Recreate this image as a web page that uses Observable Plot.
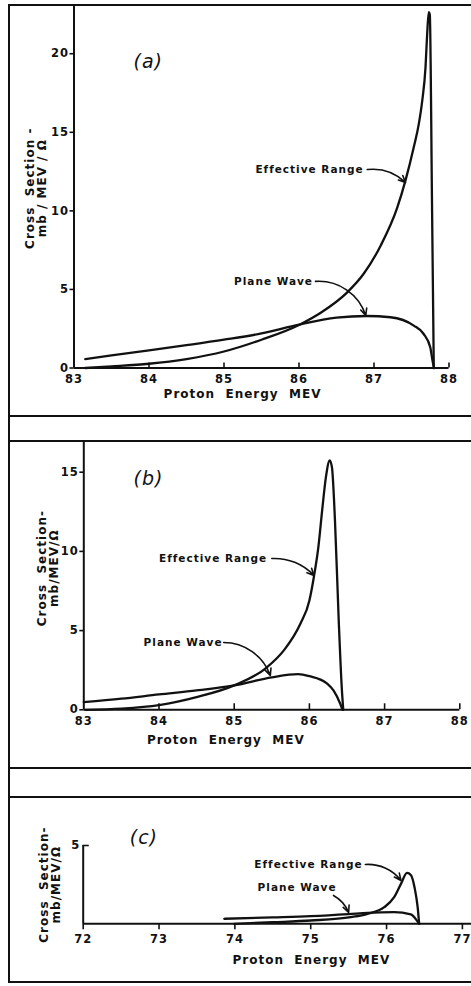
<!DOCTYPE html>
<html>
<head>
<meta charset="utf-8">
<script src="https://cdn.jsdelivr.net/npm/d3@7"></script>
<script src="https://cdn.jsdelivr.net/npm/@observablehq/plot@0.6"></script>
<style>
  html, body { margin: 0; padding: 0; background: #fff; }
  #page { position: relative; width: 471px; height: 986px; overflow: hidden; background: #fff; }
  .hl { position: absolute; left: 8px; right: 0; height: 2px; background: #111; }
  .vl { position: absolute; top: 4px; width: 2px; background: #111; }
  .panel { position: absolute; left: 0; }
  .panel svg text { letter-spacing: 1px; }
</style>
</head>
<body>
<div id="page">
  <div class="vl" style="left:8px; height:979px;"></div>
  <div class="hl" style="top:4px;"></div>
  <div class="hl" style="top:415px;"></div>
  <div class="hl" style="top:440px;"></div>
  <div class="hl" style="top:767px;"></div>
  <div class="hl" style="top:796px;"></div>
  <div class="hl" style="top:981px;"></div>
  <div class="panel" id="pa" style="top:5px;"></div>
  <div class="panel" id="pb" style="top:440px;"></div>
  <div class="panel" id="pc" style="top:797px;"></div>
</div>
<script>
// ---------- Data ----------
// Panel (a)
const aErX = [83.15, 83.5, 84.0, 84.5, 85.0, 85.5, 86.0, 86.3, 86.64, 86.86, 87.09, 87.31, 87.42, 87.53, 87.6, 87.643, 87.687, 87.709, 87.73, 87.744, 87.773, 87.797];
const aErY = [0, 0.1, 0.27, 0.57, 1.05, 1.8, 2.74, 3.55, 4.8, 5.98, 7.8, 10.2, 11.94, 14.05, 15.6, 17.0, 19.15, 21.27, 22.65, 22.5, 10.7, 0];
const aPwX = [83.15, 83.5, 84.0, 84.5, 85.0, 85.5, 86.0, 86.5, 86.9, 87.22, 87.53, 87.66, 87.75, 87.78, 87.8];
const aPwY = [0.57, 0.8, 1.12, 1.45, 1.8, 2.2, 2.76, 3.2, 3.31, 3.23, 2.7, 2.18, 1.32, 0.48, 0];
const aXTicks = [83, 84, 85, 86, 87, 88];
const aYTicks = [0, 5, 10, 15, 20];

// Panel (b)
const bErX = [83.02, 83.5, 84.0, 84.5, 85.0, 85.44, 85.66, 85.88, 86.0, 86.06, 86.12, 86.17, 86.22, 86.27, 86.3, 86.34, 86.39, 86.43, 86.45];
const bErY = [0, 0.08, 0.3, 0.8, 1.54, 2.7, 3.75, 5.43, 6.9, 8.4, 10.3, 12.6, 14.7, 15.75, 15.3, 11.96, 5.64, 1.43, 0];
const bPwX = [83.0, 83.5, 84.0, 84.5, 85.0, 85.5, 85.85, 86.0, 86.24, 86.32, 86.41, 86.44];
const bPwY = [0.48, 0.7, 0.97, 1.22, 1.54, 2.05, 2.25, 2.12, 1.64, 1.22, 0.38, 0];
const bXTicks = [83, 84, 85, 86, 87, 88];
const bYTicks = [0, 5, 10, 15];

// Panel (c)
const cErX = [73.99, 74.5, 75.0, 75.53, 75.75, 75.97, 76.1, 76.19, 76.27, 76.32, 76.37, 76.41, 76.43];
const cErY = [0, 0.1, 0.21, 0.43, 0.64, 1.06, 1.7, 2.55, 3.25, 3.12, 2.3, 1.06, 0];
const cPwX = [73.86, 74.5, 75.0, 75.5, 75.75, 76.1, 76.32, 76.4, 76.43];
const cPwY = [0.32, 0.41, 0.49, 0.62, 0.7, 0.74, 0.6, 0.21, 0];
const cXTicks = [72, 73, 74, 75, 76, 77];
const cYTicks = [5];

// Text
const seriesNames = ["Effective Range", "Plane Wave"];
const panelTags = ["(a)", "(b)", "(c)"];
const xTitle = "Proton  Energy  MEV";
const yTitleA = "Cross  Section -\nmb / MEV / \u03A9";
const yTitleB = "Cross  Section-\nmb/MEV/\u03A9";

// Annotation anchors (data units)
const aNotes = [{t: seriesNames[0], x: 86.14, y: 12.63, x1: 86.91, y1: 12.63, x2: 87.42, y2: 11.81, b: 25},
                {t: seriesNames[1], x: 85.66, y: 5.51, x1: 86.22, y1: 5.51, x2: 86.89, y2: 3.34, b: 38}];
const bNotes = [{t: seriesNames[0], x: 84.72, y: 9.57, x1: 85.50, y1: 9.55, x2: 86.06, y2: 8.48, b: 25},
                {t: seriesNames[1], x: 84.32, y: 4.27, x1: 84.86, y1: 4.25, x2: 85.48, y2: 2.17, b: 35}];
const cNotes = [{t: seriesNames[0], x: 74.97, y: 3.79, x1: 75.72, y1: 3.79, x2: 76.19, y2: 2.77, b: 28},
                {t: seriesNames[1], x: 74.82, y: 2.32, x1: 75.30, y1: 1.81, x2: 75.50, y2: 0.72, b: 20}];
const tagPos = [{x: 83.99, y: 19.45}, {x: 83.86, y: 14.6}, {x: 72.80, y: 5.51}];

const toRows = (xs, ys) => xs.map((x, i) => ({x, y: ys[i]}));
const FONT = "DejaVu Sans, Liberation Sans, sans-serif";

function panel(o) {
  const er = toRows(o.erX, o.erY), pw = toRows(o.pwX, o.pwY);
  const [x0, x1] = o.xDomain, [y0, y1] = o.yDomain;
  const marks = [
    Plot.ruleX([x0], {y1: y0, y2: y1, stroke: "#111", strokeWidth: 2}),
    Plot.ruleY([0], {x1: x0, x2: x1, stroke: "#111", strokeWidth: 2}),
    Plot.axisY({ticks: o.yTicks, tickSize: o.yTickSize, tickPadding: o.yTickPad, tickFormat: d => String(d), fontWeight: "bold", fontSize: 11.5, stroke: "#111", strokeWidth: 1.6, label: null}),
    Plot.axisX({ticks: o.xTicks, tickSize: o.xTickSize, tickPadding: o.xTickPad, tickFormat: d => String(d), fontWeight: "bold", fontSize: 11.5, stroke: "#111", strokeWidth: 1.6, label: null}),
    Plot.line(er, {x: "x", y: "y", curve: "monotone-x", stroke: "#111", strokeWidth: 2.3}),
    Plot.line(pw, {x: "x", y: "y", curve: "monotone-x", stroke: "#111", strokeWidth: 2.3}),
    Plot.text(o.notes, {x: "x", y: "y", text: "t", fontWeight: "bold", fontSize: 10.5, fill: "#111"}),
    ...o.notes.map(n => Plot.arrow([n], {x1: "x1", y1: "y1", x2: "x2", y2: "y2", bend: n.b, headLength: 7, headAngle: 50, strokeWidth: 1.6, stroke: "#111"})),
    Plot.text([o.tag], {x: () => o.tagPos.x, y: () => o.tagPos.y, text: d => d, fontStyle: "italic", fontWeight: "normal", fontSize: 19, fill: "#111"}),
    Plot.text([o.yTitle], {text: d => d, frameAnchor: "left", textAnchor: "middle", lineAnchor: "middle", rotate: -90, dx: o.yTitleDx, dy: o.yTitleDy, fontWeight: "bold", fontSize: 12, lineHeight: 1.0, fill: "#111"}),
    Plot.text([xTitle], {text: d => d, frameAnchor: "bottom", textAnchor: "middle", dx: o.xTitleDx, dy: o.xTitleDy, fontWeight: "bold", fontSize: 12, fill: "#111"})
  ];
  if (o.upTicks) marks.push(Plot.ruleX(o.upTicks, {x: d => d, y1: 0, y2: o.upLen, stroke: "#111", strokeWidth: 1.6}));
  if (o.inTicks) marks.push(Plot.ruleY(o.inTicks, {y: d => d, x1: x0, x2: x0 + o.inLen, stroke: "#111", strokeWidth: 1.6}));
  return Plot.plot({
    width: 471, height: o.height,
    marginLeft: o.ml, marginRight: o.mr, marginTop: o.mt, marginBottom: o.mb,
    x: {domain: o.xDomain}, y: {domain: o.yDomain},
    style: {fontFamily: FONT, background: "transparent", color: "#111", overflow: "visible"},
    marks
  });
}

document.getElementById("pa").append(panel({
  erX: aErX, erY: aErY, pwX: aPwX, pwY: aPwY, xTicks: aXTicks, yTicks: aYTicks,
  xDomain: [83, 88], yDomain: [0, 23.07], height: 411, ml: 73.5, mr: 22.5, mt: 0, mb: 48.5,
  yTickSize: 4, yTickPad: 1, xTickSize: 0, xTickPad: 7,
  upTicks: aXTicks.slice(1), upLen: 0.32,
  notes: aNotes, tag: panelTags[0], tagPos: tagPos[0],
  yTitle: yTitleA, yTitleDx: -37.5, yTitleDy: 1.5, xTitleDx: -19, xTitleDy: 30
}));

document.getElementById("pb").append(panel({
  erX: bErX, erY: bErY, pwX: bPwX, pwY: bPwY, xTicks: bXTicks, yTicks: bYTicks,
  xDomain: [83, 88], yDomain: [0, 17], height: 328, ml: 83.3, mr: 11.7, mt: 0, mb: 58.7,
  yTickSize: 4, yTickPad: 1, xTickSize: 0, xTickPad: 7,
  upTicks: bXTicks.slice(1), upLen: 0.38,
  notes: bNotes, tag: panelTags[1], tagPos: tagPos[1],
  yTitle: yTitleB, yTitleDx: -35.5, yTitleDy: -7, xTitleDx: -46, xTitleDy: 34
}));

document.getElementById("pc").append(panel({
  erX: cErX, erY: cErY, pwX: cPwX, pwY: cPwY, xTicks: cXTicks, yTicks: cYTicks,
  xDomain: [72, 77.12], yDomain: [0, 5], height: 185, ml: 82.7, mr: 0, mt: 48, mb: 58.7,
  yTickSize: 0, yTickPad: 3, xTickSize: 6, xTickPad: 5,
  inTicks: cYTicks, inLen: 0.08,
  notes: cNotes, tag: panelTags[2], tagPos: tagPos[2],
  yTitle: yTitleB, yTitleDx: -32.7, yTitleDy: 0, xTitleDx: 34, xTitleDy: 40
}));
</script>
</body>
</html>
